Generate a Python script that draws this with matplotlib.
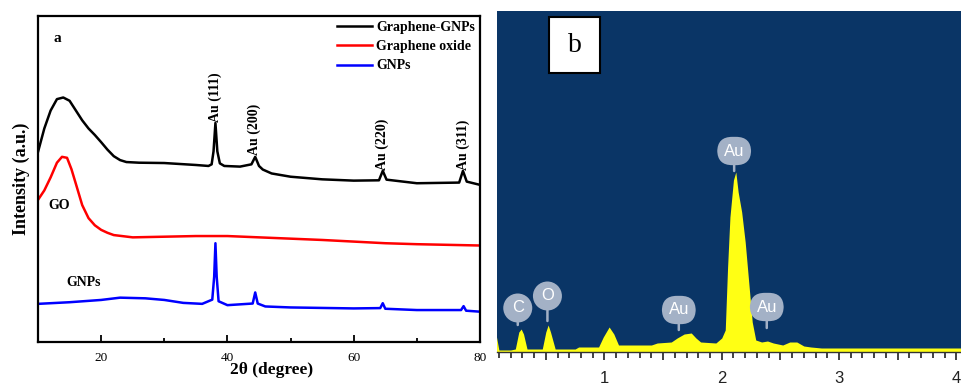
import numpy as np
import matplotlib
matplotlib.use("Agg")
import matplotlib.pyplot as plt
from matplotlib.patches import Rectangle
from matplotlib.ticker import MultipleLocator, FuncFormatter

# ---- panel a: XRD patterns (2theta, intensity a.u.) ----
gg_x = [10, 11, 12, 13, 14, 15, 16, 17, 18, 19, 20, 21, 22, 23, 24, 26, 30, 35, 37, 37.5,
        37.8, 38.1, 38.4, 38.8, 39.5, 42, 43.8, 44.4, 45.0, 45.6, 47, 50, 55, 60, 64.0,
        64.6, 65.2, 70, 76.7, 77.3, 77.9, 80]
gg_y = [58.3, 65.5, 71.0, 74.5, 75.0, 74.0, 71.0, 68.0, 65.5, 63.5, 61.3, 59.0, 57.0,
        55.8, 55.2, 55.0, 54.9, 54.3, 54.0, 54.5, 58.5, 67.2, 58.5, 54.8, 54.0, 53.8,
        54.5, 56.8, 54.0, 52.9, 51.7, 50.7, 49.9, 49.5, 49.6, 52.5, 49.8, 48.7, 48.9,
        52.5, 49.2, 48.2]

go_x = [10, 11, 12, 13, 13.8, 14.6, 15.3, 16, 17, 18, 19, 20, 21, 22, 25, 30, 35, 40, 45,
        50, 55, 60, 65, 70, 75, 80]
go_y = [43.6, 46.5, 50.5, 55.0, 56.8, 56.5, 53.0, 48.5, 42.0, 38.0, 35.8, 34.4, 33.5,
        32.8, 32.1, 32.3, 32.5, 32.5, 32.1, 31.7, 31.3, 30.8, 30.3, 30.0, 29.8, 29.6]

np_x = [10, 15, 20, 23, 27, 30, 33, 36, 37.6, 37.9, 38.1, 38.3, 38.6, 40, 44.0, 44.4, 44.8,
        46, 50, 60, 64.2, 64.6, 65.0, 70, 77.0, 77.4, 77.8, 80]
np_y = [11.7, 12.2, 12.9, 13.6, 13.4, 12.9, 12.0, 11.7, 13.0, 20.0, 30.3, 20.0, 12.5,
        11.3, 11.8, 15.2, 11.8, 10.9, 10.6, 10.3, 10.4, 11.9, 10.2, 9.8, 9.8, 11.0, 9.6, 9.3]

peak_names = ["Au (111)", "Au (200)", "Au (220)", "Au (311)"]
peak_pos = [38.05, 44.2, 64.5, 77.3]
peak_top = [67.5, 57.5, 52.8, 52.8]

# ---- panel b: EDS spectrum (keV, counts) ----
eds_e = [0.08, 0.10, 0.20, 0.24, 0.27, 0.29, 0.31, 0.34, 0.47, 0.50, 0.52, 0.54, 0.58,
         0.75, 0.78, 0.95, 0.99, 1.04, 1.08, 1.12, 1.40, 1.45, 1.57, 1.62, 1.68, 1.74,
         1.78, 1.82, 1.95, 2.00, 2.03, 2.05, 2.07, 2.10, 2.12, 2.14, 2.17, 2.20, 2.23,
         2.26, 2.29, 2.34, 2.39, 2.44, 2.52, 2.58, 2.64, 2.70, 2.76, 2.85, 4.10]
eds_c = [15, 2, 2, 3, 20, 23, 18, 3, 3, 20, 27, 20, 3, 3, 5, 5, 15, 25, 18, 7, 7, 9, 10,
         14, 18, 19, 14, 10, 9, 14, 22, 85, 135, 172, 180, 160, 140, 110, 70, 30, 12, 10,
         11, 9, 7, 10, 10, 6, 5, 4, 4]

el_names = ["C", "O", "Au", "Au", "Au"]
el_pos = [0.261, 0.514, 1.634, 2.106, 2.384]
el_tip = [27, 31, 22, 181, 24]
el_lab = [44, 56, 42, 201, 45]

serif = "Liberation Serif"

fig = plt.figure(figsize=(9.61, 3.85), dpi=100)
W, H = 961.0, 385.0

# panel a
ax = fig.add_axes([38 / W, (H - 342) / H, 442 / W, 326 / H])
ax.plot(gg_x, gg_y, color="black", lw=1.8, label="Graphene-GNPs")
ax.plot(go_x, go_y, color="red", lw=1.8, label="Graphene oxide")
ax.plot(np_x, np_y, color="blue", lw=1.8, label="GNPs")
ax.set_xlim(10, 80)
ax.set_ylim(0, 100)
ax.set_yticks([])
ax.xaxis.set_major_locator(MultipleLocator(20))
ax.xaxis.set_minor_locator(MultipleLocator(10))
ax.tick_params(axis="x", which="major", direction="in", length=5, width=1.3, pad=7,
               labelsize=9.5)
ax.tick_params(axis="x", which="minor", direction="in", length=3, width=1.3)
for lab in ax.get_xticklabels():
    lab.set_fontfamily(serif)
for s in ax.spines.values():
    s.set_linewidth(1.6)
ax.set_xlabel("2θ (degree)", fontfamily=serif, fontweight="bold", fontsize=12.5)
ax.xaxis.set_label_coords((272 - 38) / 442, -0.062)
ax.set_ylabel("Intensity (a.u.)", fontfamily=serif, fontweight="bold", fontsize=13,
              labelpad=6)
for name, x, y in zip(peak_names, peak_pos, peak_top):
    ax.text(x, y, name, rotation=90, ha="center", va="bottom", fontfamily=serif,
            fontweight="bold", fontsize=10)
ax.text(13.3, 42, "GO", ha="center", va="center", fontfamily=serif, fontweight="bold",
        fontsize=10)
ax.text(17.3, 18.4, "GNPs", ha="center", va="center", fontfamily=serif,
        fontweight="bold", fontsize=10)
ax.text(0.036, 0.93, "a", transform=ax.transAxes, ha="left", va="center",
        fontfamily=serif, fontweight="bold", fontsize=11)
ax.legend(loc="upper left", bbox_to_anchor=(0.676, 0.985), frameon=False,
          prop=dict(family=serif, weight="bold", size=10), borderpad=0,
          borderaxespad=0, handlelength=2.5, handletextpad=0.35, labelspacing=0.45)

# panel b
bx = fig.add_axes([497 / W, (H - 352) / H, (W - 497) / W, 341 / H])
bx.set_facecolor("#0a3566")
bx.fill_between(eds_e, eds_c, 0, color="#ffff14", lw=0)
bx.set_xlim(0.084, 4.04)
bx.set_ylim(0, 341)
bx.set_yticks([])
for k in ["top", "left", "right"]:
    bx.spines[k].set_visible(False)
bx.spines["bottom"].set_color("#333333")
bx.spines["bottom"].set_linewidth(1.0)
bx.xaxis.set_major_locator(MultipleLocator(0.5))
bx.xaxis.set_minor_locator(MultipleLocator(0.1))
bx.xaxis.set_major_formatter(FuncFormatter(lambda v, p: "%d" % v if abs(v - round(v)) < 1e-6 else ""))
bx.tick_params(axis="x", which="major", direction="out", length=6, width=1.2,
               color="#222222", labelsize=12, pad=8)
bx.tick_params(axis="x", which="minor", direction="out", length=4, width=1.2,
               color="#222222")
for lab in bx.get_xticklabels():
    lab.set_fontfamily("Liberation Sans")
    lab.set_color("#222222")
for name, x, tip, lab in zip(el_names, el_pos, el_tip, el_lab):
    box = "circle,pad=0.42" if len(name) == 1 else "round,pad=0.4,rounding_size=0.9"
    bx.annotate(name, xy=(x, tip), xytext=(x, lab), ha="center", va="center",
                color="white", fontsize=12, fontfamily="Liberation Sans",
                bbox=dict(boxstyle=box, fc="#a3b1c6", ec="none"),
                arrowprops=dict(arrowstyle="-", color="#a3b1c6", lw=1.8,
                                shrinkA=0, shrinkB=0))

fig.add_artist(Rectangle((549 / W, (H - 73) / H), 51 / W, 56 / H, transform=fig.transFigure,
                         fc="white", ec="black", lw=1.5))
fig.text(574.5 / W, (H - 45) / H, "b", ha="center", va="center", fontfamily=serif,
         fontsize=20)

fig.savefig("out.png", dpi=100)
